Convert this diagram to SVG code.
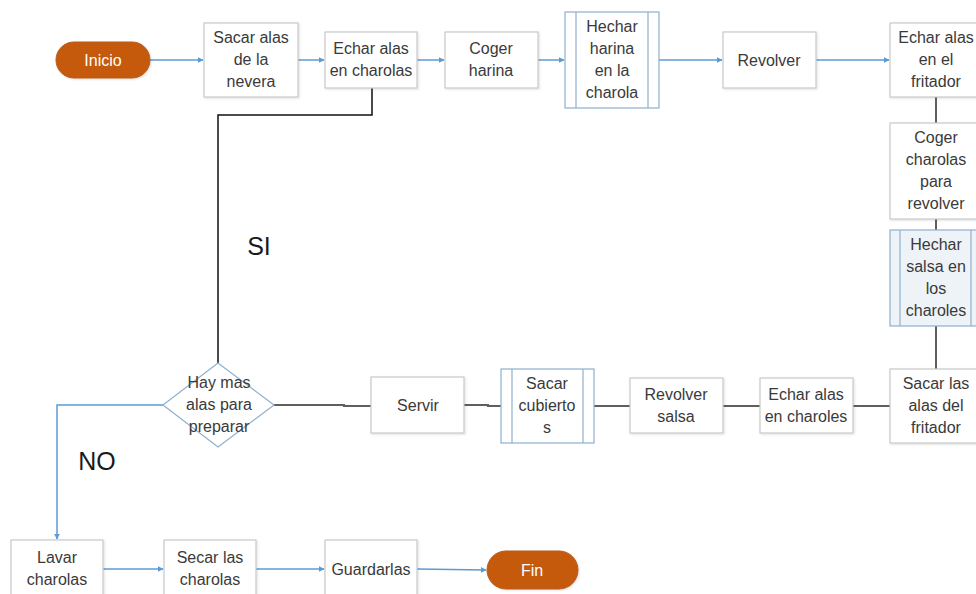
<svg xmlns="http://www.w3.org/2000/svg" width="976" height="594" viewBox="0 0 976 594">
  <defs>
    <marker id="arr" viewBox="0 0 10 10" refX="9" refY="5" markerWidth="6" markerHeight="6" markerUnits="userSpaceOnUse" orient="auto">
      <path d="M0,0 L10,5 L0,10 Z" fill="#5B9BD5"/>
    </marker>
    <filter id="sh" x="-10%" y="-10%" width="125%" height="125%">
      <feDropShadow dx="1" dy="1" stdDeviation="0.8" flood-color="#000" flood-opacity="0.12"/>
    </filter>
  </defs>
  <style>
    .box { fill: #ffffff; stroke: #c9c9c9; stroke-width: 1.2; filter: url(#sh); }
    .sub { fill: #ffffff; stroke: #8fb0cf; stroke-width: 1.2; }
    .subfill { fill: #eef3f8; stroke: #8fb0cf; stroke-width: 1.2; }
    .pill { fill: #C55A11; stroke: #b85a1a; stroke-width: 1; filter: url(#sh); }
    .t { font-family: "Liberation Sans", Arial, sans-serif; font-size: 16px; fill: #3a3a3a; text-anchor: middle; }
    .tw { font-family: "Liberation Sans", Arial, sans-serif; font-size: 16px; fill: #ffffff; text-anchor: middle; }
    .big { font-family: "Liberation Sans", Arial, sans-serif; font-size: 25px; fill: #1a1a1a; text-anchor: middle; }
    .blue { fill: none; stroke: #5B9BD5; stroke-width: 1.5; marker-end: url(#arr); }
    .gray { fill: none; stroke: #5f5f5f; stroke-width: 2; }
    .black { fill: none; stroke: #111111; stroke-width: 1.5; }
  </style>
  <rect width="976" height="594" fill="#ffffff"/>

  <g id="connectors">
    <line class="blue" x1="150" y1="60" x2="203" y2="60"/>
    <line class="blue" x1="298" y1="60" x2="324" y2="60"/>
    <line class="blue" x1="417" y1="60" x2="444" y2="60"/>
    <line class="blue" x1="538" y1="60" x2="564" y2="60"/>
    <line class="blue" x1="659" y1="60" x2="722" y2="60"/>
    <line class="blue" x1="816" y1="60" x2="889" y2="60"/>
    <line class="gray" x1="936" y1="97" x2="936" y2="123"/>
    <line class="gray" x1="936" y1="219" x2="936" y2="230"/>
    <line class="gray" x1="936" y1="326" x2="936" y2="369"/>
    <line class="gray" x1="853" y1="406" x2="890" y2="406"/>
    <line class="gray" x1="723" y1="406" x2="760" y2="406"/>
    <line class="gray" x1="594" y1="406" x2="630" y2="406"/>
    <polyline class="gray" points="464,405 488,405 488,406 501,406"/>
    <polyline class="gray" points="274,405 344,405 344,406 371,406"/>
    <polyline class="black" points="372,88 372,115 218,115 218,363"/>
    <polyline class="blue" points="163,405 57,405 57,539"/>
    <line class="blue" x1="103" y1="569" x2="163" y2="569"/>
    <line class="blue" x1="256" y1="569" x2="324" y2="569"/>
    <line class="blue" x1="417" y1="569" x2="486" y2="570"/>
  </g>

  <g id="inicio">
    <rect class="pill" x="56" y="42" width="94" height="36" rx="18"/>
    <text class="tw" x="103" y="66">Inicio</text>
  </g>
  <g id="sacar-alas-nevera">
    <rect class="box" x="204" y="23" width="94" height="74"/>
    <text class="t" x="251" y="43">Sacar alas</text>
    <text class="t" x="251" y="65">de la</text>
    <text class="t" x="251" y="87">nevera</text>
  </g>
  <g id="echar-alas-charolas">
    <rect class="box" x="325" y="32" width="92" height="56"/>
    <text class="t" x="371" y="54">Echar alas</text>
    <text class="t" x="371" y="76">en charolas</text>
  </g>
  <g id="coger-harina">
    <rect class="box" x="445" y="32" width="93" height="56"/>
    <text class="t" x="491" y="54">Coger</text>
    <text class="t" x="491" y="76">harina</text>
  </g>
  <g id="hechar-harina">
    <rect class="sub" x="565" y="12" width="94" height="96"/>
    <line class="sub" x1="576" y1="12" x2="576" y2="108"/>
    <line class="sub" x1="648" y1="12" x2="648" y2="108"/>
    <text class="t" x="612" y="32">Hechar</text>
    <text class="t" x="612" y="54">harina</text>
    <text class="t" x="612" y="76">en la</text>
    <text class="t" x="612" y="98">charola</text>
  </g>
  <g id="revolver">
    <rect class="box" x="723" y="32" width="93" height="56"/>
    <text class="t" x="769" y="66">Revolver</text>
  </g>
  <g id="echar-alas-fritador">
    <rect class="box" x="890" y="23" width="90" height="74"/>
    <text class="t" x="936" y="43">Echar alas</text>
    <text class="t" x="936" y="65">en el</text>
    <text class="t" x="936" y="87">fritador</text>
  </g>
  <g id="coger-charolas">
    <rect class="box" x="890" y="123" width="90" height="96"/>
    <text class="t" x="936" y="143">Coger</text>
    <text class="t" x="936" y="165">charolas</text>
    <text class="t" x="936" y="187">para</text>
    <text class="t" x="936" y="209">revolver</text>
  </g>
  <g id="hechar-salsa">
    <rect class="subfill" x="890" y="230" width="90" height="96"/>
    <line class="sub" x1="900" y1="230" x2="900" y2="326"/>
    <line class="sub" x1="971" y1="230" x2="971" y2="326"/>
    <text class="t" x="936" y="250">Hechar</text>
    <text class="t" x="936" y="272">salsa en</text>
    <text class="t" x="936" y="294">los</text>
    <text class="t" x="936" y="316">charoles</text>
  </g>
  <g id="sacar-alas-fritador">
    <rect class="box" x="890" y="369" width="90" height="74"/>
    <text class="t" x="936" y="389">Sacar las</text>
    <text class="t" x="936" y="411">alas del</text>
    <text class="t" x="936" y="433">fritador</text>
  </g>
  <g id="echar-alas-charoles">
    <rect class="box" x="760" y="378" width="93" height="55"/>
    <text class="t" x="806" y="400">Echar alas</text>
    <text class="t" x="806" y="422">en charoles</text>
  </g>
  <g id="revolver-salsa">
    <rect class="box" x="630" y="378" width="93" height="55"/>
    <text class="t" x="676" y="400">Revolver</text>
    <text class="t" x="676" y="422">salsa</text>
  </g>
  <g id="sacar-cubiertos">
    <rect class="sub" x="501" y="369" width="93" height="74"/>
    <line class="sub" x1="512" y1="369" x2="512" y2="443"/>
    <line class="sub" x1="583" y1="369" x2="583" y2="443"/>
    <text class="t" x="547" y="389">Sacar</text>
    <text class="t" x="547" y="411">cubierto</text>
    <text class="t" x="547" y="433">s</text>
  </g>
  <g id="servir">
    <rect class="box" x="371" y="377" width="93" height="56"/>
    <text class="t" x="418" y="411">Servir</text>
  </g>
  <g id="decision">
    <polygon points="218,363 274,405 218,447 163,405" fill="#ffffff" stroke="#8fb0cf" stroke-width="1.2"/>
    <text class="t" x="219" y="388">Hay mas</text>
    <text class="t" x="219" y="410">alas para</text>
    <text class="t" x="219" y="432">preparar</text>
  </g>
  <g id="labels">
    <text class="big" x="259" y="255">SI</text>
    <text class="big" x="97" y="470">NO</text>
  </g>
  <g id="lavar-charolas">
    <rect class="box" x="11" y="540" width="92" height="60"/>
    <text class="t" x="57" y="563">Lavar</text>
    <text class="t" x="57" y="585">charolas</text>
  </g>
  <g id="secar-charolas">
    <rect class="box" x="164" y="540" width="92" height="60"/>
    <text class="t" x="210" y="563">Secar las</text>
    <text class="t" x="210" y="585">charolas</text>
  </g>
  <g id="guardarlas">
    <rect class="box" x="325" y="540" width="92" height="60"/>
    <text class="t" x="371" y="575">Guardarlas</text>
  </g>
  <g id="fin">
    <rect class="pill" x="487" y="551" width="91" height="38" rx="19"/>
    <text class="tw" x="532" y="576">Fin</text>
  </g>
</svg>
